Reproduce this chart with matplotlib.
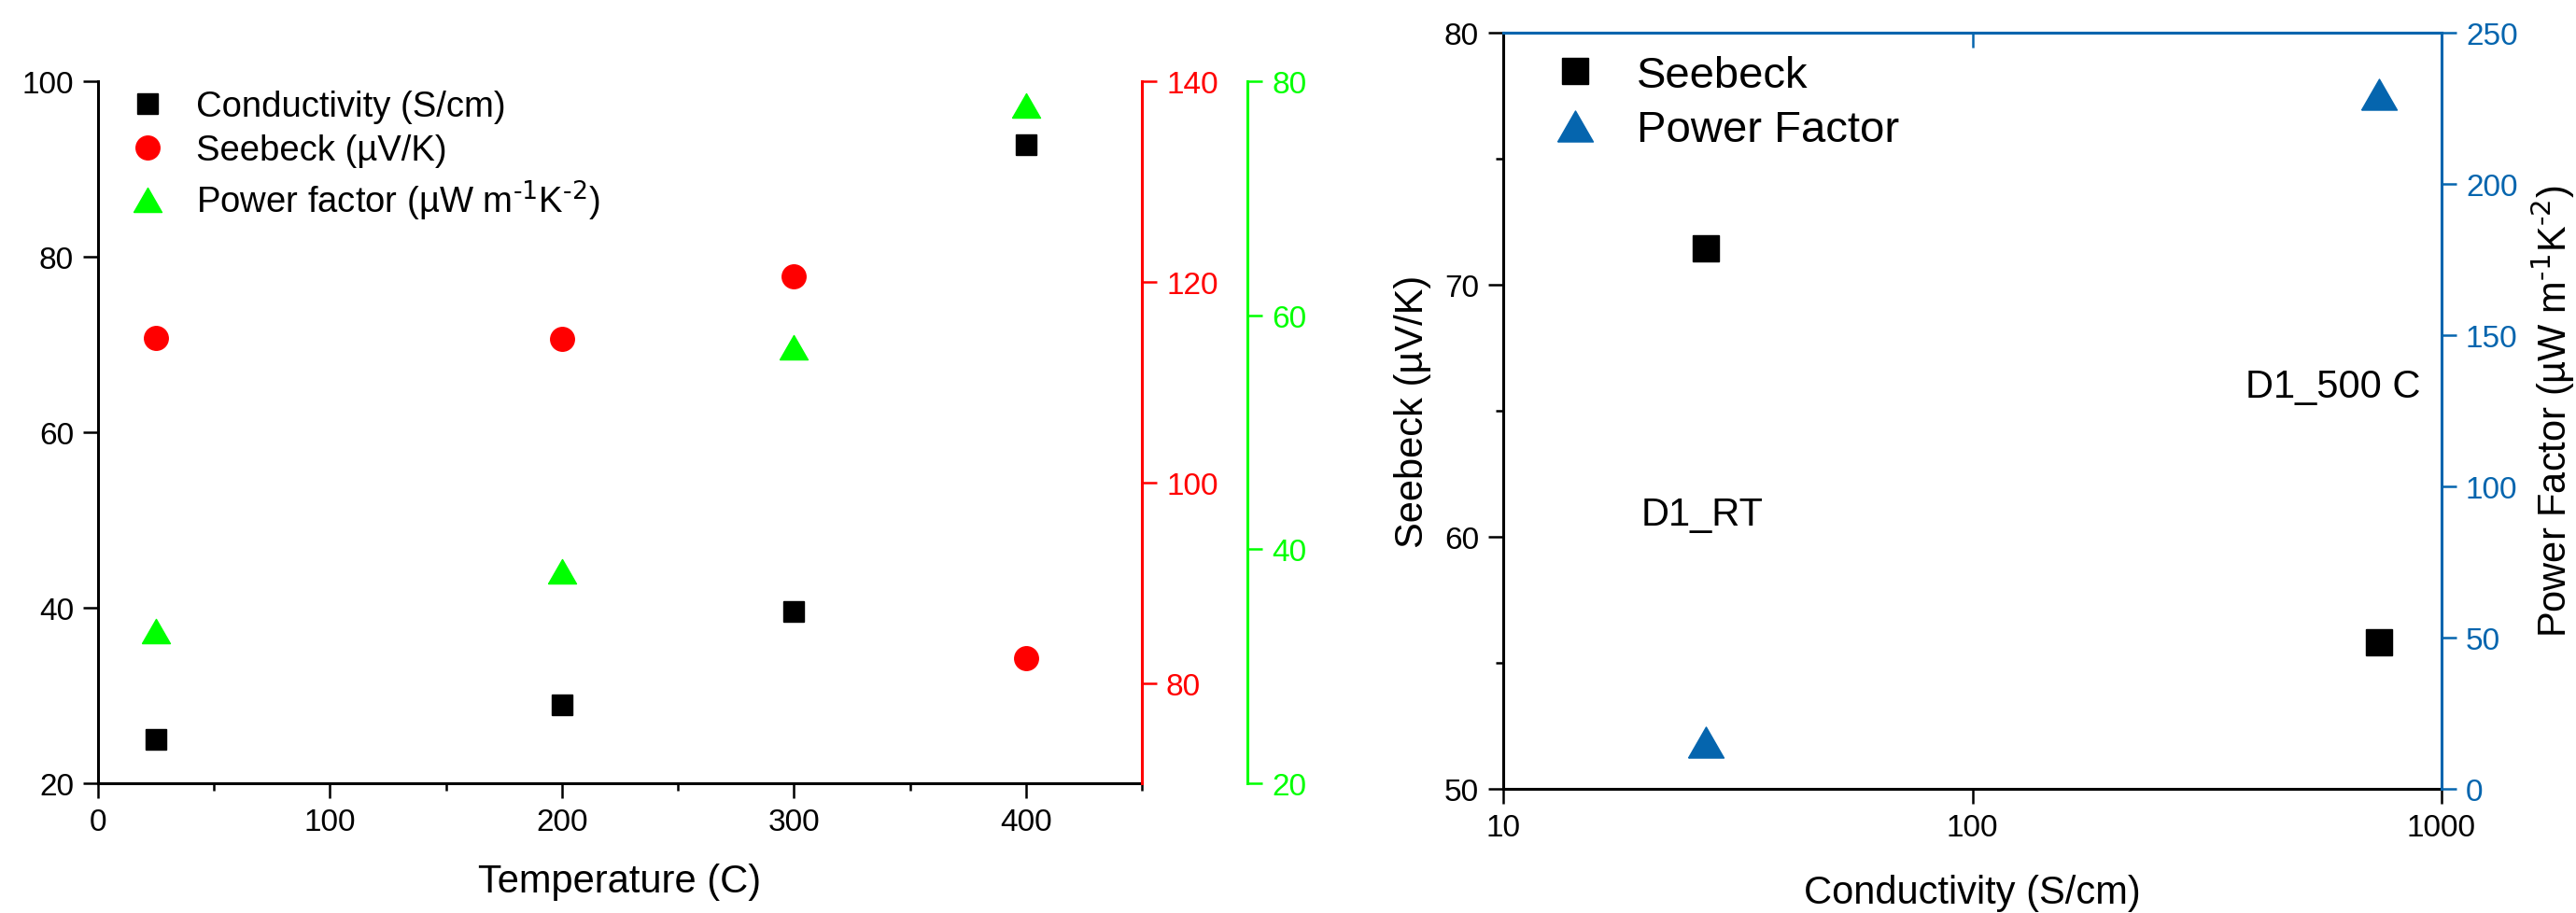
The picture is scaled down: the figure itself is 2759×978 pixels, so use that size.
import matplotlib
matplotlib.use('Agg')
from matplotlib import pyplot as plt
from matplotlib.ticker import FixedLocator, NullLocator, FuncFormatter, MultipleLocator
import numpy as np

plt.rcParams['font.family'] = ['Liberation Sans', 'DejaVu Sans']
plt.rcParams['mathtext.default'] = 'regular'

# left panel: properties vs temperature
temperature = [25, 200, 300, 400]
conductivity = [25.0, 28.9, 39.6, 92.8]
seebeck_t = [114.4, 114.3, 120.5, 82.5]
power_factor_t = [33.0, 38.1, 57.3, 77.9]

# right panel: seebeck / power factor vs conductivity
samples = ['D1_RT', 'D1_500 C']
sample_cond = [27.0, 736.0]
sample_seebeck = [71.45, 55.8]
sample_pf = [15.4, 229.6]
sample_label_xy = [(19.7, 60.9), (382.0, 65.96)]

W, H = 2759, 979
DPI = 100
RED = '#ff0000'
GREEN = '#00ff00'
BLUE = '#0565ae'
LW = 2.2
TICK_FS = 24
LABEL_FS = 30

# equilateral triangle marker (flatter than matplotlib's '^')
tri = [(-1, -0.87), (1, -0.87), (0, 0.87), (-1, -0.87)]

PF_UNIT = r'(µW m$^{\text{-1}}$K$^{\text{-2}}$)'


def px(v):
    return v * 72.0 / DPI


fig = plt.figure(figsize=(W / DPI, H / DPI), dpi=DPI)

# ---------- left panel ----------
ax = fig.add_axes([105 / W, 1 - 840 / H, (1223 - 105) / W, (840 - 88) / H])
ax_r = ax.twinx()
ax_g = ax.twinx()

ax.set_xlim(0, 450)
ax.set_ylim(20, 100)
ax_r.set_ylim(70, 140)
ax_g.set_ylim(20, 80)

h1, = ax.plot(temperature, conductivity, ls='none', marker='s', ms=px(22),
              color='black', label='Conductivity (S/cm)')
h2, = ax_r.plot(temperature, seebeck_t, ls='none', marker='o', ms=px(25.5),
                color=RED, label='Seebeck (µV/K)')
h3, = ax_g.plot(temperature, power_factor_t, ls='none', marker=tri, ms=px(30),
                color=GREEN, label='Power factor ' + PF_UNIT)

for a in (ax, ax_r, ax_g):
    for s in a.spines.values():
        s.set_linewidth(LW)
    a.spines['top'].set_visible(False)
ax.spines['right'].set_visible(False)
for a in (ax_r, ax_g):
    a.spines['left'].set_visible(False)
    a.spines['bottom'].set_visible(False)
ax_r.spines['right'].set_color(RED)
ax_g.spines['right'].set_color(GREEN)
ax_g.spines['right'].set_position(('axes', (1336 - 105) / (1223 - 105)))

ax.xaxis.set_major_locator(MultipleLocator(100))
ax.xaxis.set_minor_locator(MultipleLocator(50))
ax.yaxis.set_major_locator(MultipleLocator(20))
ax.yaxis.set_minor_locator(NullLocator())
ax_r.yaxis.set_major_locator(FixedLocator([80, 100, 120, 140]))
ax_g.yaxis.set_major_locator(MultipleLocator(20))

ax.tick_params(which='major', direction='out', length=px(16), width=px(2.5),
               labelsize=TICK_FS, pad=px(10))
ax.tick_params(which='minor', direction='out', length=px(8), width=px(2.5))
ax_r.tick_params(axis='y', direction='out', length=px(16), width=px(2.5),
                 colors=RED, labelsize=TICK_FS, pad=px(10))
ax_g.tick_params(axis='y', direction='out', length=px(16), width=px(2.5),
                 colors=GREEN, labelsize=TICK_FS, pad=px(10))

ax.set_xlabel('Temperature (C)', fontsize=LABEL_FS, labelpad=px(28))

ax.legend(handles=[h1, h2, h3], loc='upper left',
          bbox_to_anchor=(139 / W, 1 - 97 / H), bbox_transform=fig.transFigure,
          frameon=False, fontsize=27.5, handlelength=1.0, handletextpad=0.85,
          labelspacing=0.3, borderpad=0, borderaxespad=0)

# ---------- right panel ----------
bx = fig.add_axes([1610 / W, 1 - 846 / H, (2615 - 1610) / W, (846 - 36) / H])
bx_r = bx.twinx()

bx.set_xscale('log')
bx.set_xlim(10, 1000)
bx.set_ylim(50, 80)
bx_r.set_ylim(0, 250)

k1, = bx.plot(sample_cond, sample_seebeck, ls='none', marker='s', ms=px(28),
              color='black', label='Seebeck')
k2, = bx_r.plot(sample_cond, sample_pf, ls='none', marker=tri, ms=px(38),
                color=BLUE, label='Power Factor')

for name, (tx, ty) in zip(samples, sample_label_xy):
    bx.text(tx, ty, name, fontsize=LABEL_FS, va='center', ha='left')

for a in (bx, bx_r):
    for s in a.spines.values():
        s.set_linewidth(LW)
bx.spines['top'].set_visible(False)
bx.spines['right'].set_visible(False)
bx_r.spines['left'].set_visible(False)
bx_r.spines['bottom'].set_visible(False)
bx_r.spines['right'].set_color(BLUE)
bx_r.spines['top'].set_color(BLUE)

bx.xaxis.set_major_locator(FixedLocator([10, 100, 1000]))
bx.xaxis.set_minor_locator(NullLocator())
bx.xaxis.set_major_formatter(FuncFormatter(lambda v, p: '%d' % v))
bx.yaxis.set_major_locator(MultipleLocator(10))
bx.yaxis.set_minor_locator(MultipleLocator(5))
bx_r.yaxis.set_major_locator(MultipleLocator(50))
bx_r.yaxis.set_minor_locator(NullLocator())

bx.tick_params(which='major', direction='out', length=px(16), width=px(2.5),
               labelsize=TICK_FS, pad=px(10))
bx.tick_params(which='minor', direction='out', length=px(8), width=px(2.5))
bx_r.tick_params(axis='y', direction='out', length=px(16), width=px(2.5),
                 colors=BLUE, labelsize=TICK_FS, pad=px(10))

# blue top axis with inward ticks, no labels
top = bx.secondary_xaxis('top')
top.xaxis.set_major_locator(FixedLocator([10, 100, 1000]))
top.xaxis.set_minor_locator(NullLocator())
top.tick_params(direction='in', length=px(16), width=px(2.5), colors=BLUE,
                labeltop=False)
top.spines['top'].set_color(BLUE)
top.spines['top'].set_linewidth(LW)

bx.set_xlabel('Conductivity (S/cm)', fontsize=LABEL_FS, labelpad=px(34))
bx.set_ylabel('Seebeck (µV/K)', fontsize=LABEL_FS, labelpad=px(14))
bx_r.set_ylabel('Power Factor ' + PF_UNIT, fontsize=LABEL_FS,
                labelpad=px(12))

bx.legend(handles=[k1, k2], loc='upper left',
          bbox_to_anchor=(1663 / W, 1 - 60 / H), bbox_transform=fig.transFigure,
          frameon=False, fontsize=34, handlelength=1.0, handletextpad=0.9,
          labelspacing=0.3, borderpad=0, borderaxespad=0)

fig.savefig('out.png', dpi=DPI)
